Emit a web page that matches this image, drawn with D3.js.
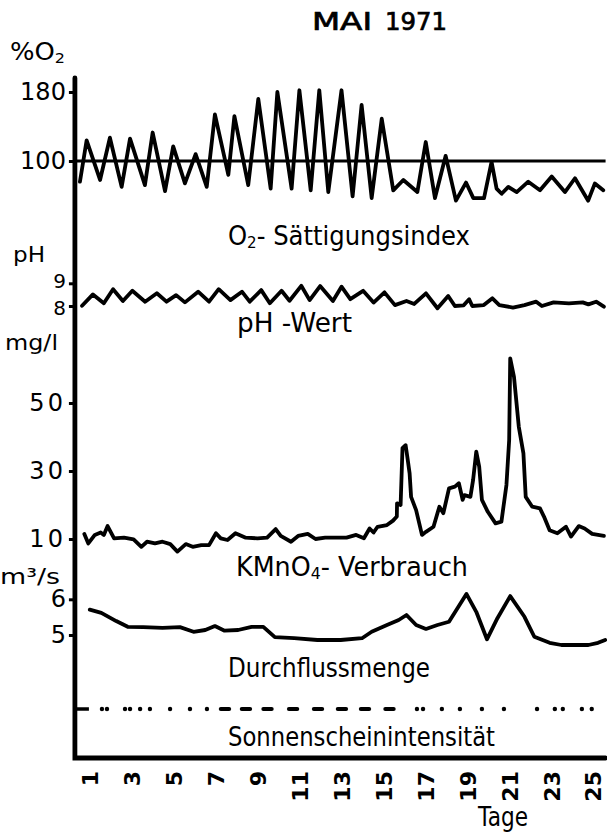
<!DOCTYPE html>
<html><head><meta charset="utf-8">
<script src="https://cdn.jsdelivr.net/npm/d3@7/dist/d3.min.js"></script>
<style>
html,body{margin:0;padding:0;background:#fff;}
svg text{font-family:"DejaVu Sans",sans-serif;fill:#000;}
</style></head>
<body>
<svg id="c" width="607" height="836"></svg>
<script>
// ---------- DATA ----------
const dayTicks = [1,3,5,7,9,11,13,15,17,19,21,23,25];

const o2Days = [0.52,0.84,1.48,1.95,2.51,2.91,3.62,3.99,4.58,4.97,5.53,6.04,6.57,6.96,7.6,7.89,8.55,9.03,9.62,9.94,10.62,10.99,11.53,11.94,12.37,13.0,13.53,13.96,14.44,14.92,15.47,15.95,16.62,17.02,17.46,17.97,18.46,18.94,19.29,19.8,20.16,20.4,20.64,20.96,21.36,21.91,22.47,23.03,23.66,24.14,24.77,25.09,25.49];
const o2Vals = [76,124,78,127,70,126,72,133,65,117,74,108,70,154,84,152,72,172,68,180,68,182,66,182,64,182,59,165,57,149,66,78,64,122,57,106,54,75,57,57,99,68,62,70,64,76,66,82,64,80,54,74,66];
const o2Ticks = [180,100];

const phDays = [0.62,1.14,1.66,2.10,2.57,3.02,3.63,4.19,4.65,5.11,5.53,6.16,6.68,7.14,7.70,8.25,8.62,9.17,9.58,10.14,10.52,11.08,11.48,11.98,12.59,13.0,13.42,14.03,14.53,15.05,15.55,16.10,16.47,17.03,17.58,18.09,18.41,18.83,19.09,19.24,19.79,20.20,20.53,21.18,21.73,22.29,22.56,23.12,23.85,24.51,24.78,25.15,25.52];
const phVals = [8.01,8.51,8.12,8.74,8.22,8.67,8.19,8.56,8.19,8.48,8.16,8.63,8.19,8.74,8.26,8.63,8.19,8.70,8.12,8.67,8.23,8.89,8.26,8.88,8.22,8.85,8.30,8.67,8.15,8.60,8.04,8.22,8.09,8.56,7.90,8.44,8.00,8.03,8.30,8.00,8.04,8.34,8.04,7.93,8.04,8.19,8.00,8.16,8.12,8.16,8.07,8.19,7.97];
const phTicks = [9,8];

const kmDays = [0.73,0.92,1.23,1.51,1.66,1.84,2.15,2.62,3.08,3.45,3.72,4.10,4.46,4.83,5.17,5.57,5.90,6.31,6.68,7.01,7.24,7.56,7.94,8.43,8.99,9.45,9.86,10.10,10.59,10.93,11.39,11.76,12.22,12.77,13.24,13.70,14.07,14.34,14.53,14.72,15.17,15.46,15.64,15.65,15.82,15.91,16.06,16.14,16.25,16.32,16.56,16.84,17.03,17.39,17.67,17.86,18.13,18.41,18.60,18.78,18.87,19.15,19.28,19.43,19.57,19.70,19.98,20.35,20.63,20.87,21.0,21.05,21.23,21.46,21.68,21.79,22.10,22.47,22.66,22.93,23.30,23.71,23.95,24.32,24.60,24.96,25.52];
const kmVals = [11.5,8.7,11.2,11.9,11.2,13.8,10.2,10.4,9.9,7.7,9.2,8.7,9.2,8.5,6.3,8.5,7.7,8.2,8.2,11.7,10.2,9.7,11.7,10.4,10.2,10.4,12.9,10.9,9.2,10.9,11.5,10.0,10.4,10.4,10.4,11.2,10.2,13.1,11.9,13.6,14.1,15.4,16.6,20.5,20.0,36.7,37.6,34.2,29.3,22.4,18.5,11.2,12.1,13.6,19.5,17.6,24.9,25.4,26.4,21.5,22.9,22.4,27.4,35.7,31.3,21.5,18.0,14.6,15.1,25.9,39.1,63.1,57.7,43.0,35.2,22.4,19.5,19.0,16.6,12.6,11.7,13.6,10.7,13.8,13.1,11.5,10.9];
const kmTicks = [50,30,10];

const flDays = [0.99,1.54,2.25,2.80,3.54,4.46,5.29,5.94,6.50,6.96,7.42,8.07,8.71,9.27,9.82,10.74,11.85,12.96,13.98,14.44,15.17,15.73,16.10,16.56,17.03,17.58,18.13,18.96,19.43,19.94,20.44,21.05,21.73,22.20,22.93,23.49,24.23,24.78,25.24,25.58];
const flVals = [5.71,5.62,5.39,5.23,5.22,5.20,5.22,5.09,5.14,5.25,5.12,5.14,5.23,5.23,4.94,4.91,4.86,4.86,4.91,5.09,5.28,5.42,5.56,5.28,5.17,5.28,5.37,6.15,5.65,4.88,5.47,6.09,5.51,4.95,4.78,4.72,4.72,4.72,4.78,4.86];
const flTicks = [6,5];

// sunshine: 'dash' = long mark, 'dot' = short mark
const sunDays  = [1.57,1.81,2.67,2.91,3.39,3.86,4.82,5.77,6.58,7.44,8.44,9.47,10.69,11.88,13.02,14.12,15.29,16.6,16.89,17.79,18.65,19.70,20.75,22.33,23.18,23.56,24.47,24.94];
const sunTypes = ['dot','dot','dot','dot','dot','dot','dot','dot','dot','dash','dash','dash','dash','dash','dash','dash','dash','dot','dot','dot','dot','dot','dot','dot','dot','dot','dot','dot'];

// ---------- LAYOUT ----------
const svg = d3.select('#c');
const x = d3.scaleLinear().domain([1,25]).range([90,593]);
const xStart = 0.28, xEnd = 25.6;
const yO2 = d3.scaleLinear().domain([100,180]).range([161,92]);
const yPH = d3.scaleLinear().domain([8,9]).range([306,283.3]);
const yKM = d3.scaleLinear().domain([10,50]).range([539,403]);
const yFL = d3.scaleLinear().domain([5,6]).range([635,599.3]);
const ySun = 709, axisTop = 78, axisBottom = 758;
const axX = x(xStart);

const line = (xs, ys, sc) => d3.line().x((d,i)=>x(xs[i])).y((d,i)=>sc(ys[i]))(xs);

function series(xs, ys, sc){
  svg.append('path').attr('d', line(xs,ys,sc))
    .attr('fill','none').attr('stroke','#000').attr('stroke-width',3.8)
    .attr('stroke-linejoin','round').attr('stroke-linecap','round');
}

// 100% reference line
svg.append('line').attr('x1',axX).attr('x2',x(xEnd)).attr('y1',yO2(100)).attr('y2',yO2(100))
  .attr('stroke','#000').attr('stroke-width',3.2);

series(o2Days,o2Vals,yO2);
series(phDays,phVals,yPH);
series(kmDays,kmVals,yKM);
series(flDays,flVals,yFL);

// sunshine marks
sunDays.forEach((d,i)=>{
  if(sunTypes[i]==='dash'){
    svg.append('line').attr('x1',x(d-0.2)).attr('x2',x(d+0.2)).attr('y1',ySun).attr('y2',ySun)
      .attr('stroke','#000').attr('stroke-width',4).attr('stroke-linecap','round');
  } else {
    svg.append('circle').attr('cx',x(d)).attr('cy',ySun).attr('r',2.2).attr('fill','#000');
  }
});

// left tick axes
function leftAxis(sc, vals, size, spacing){
  const g = svg.append('g').attr('transform',`translate(${axX},0)`)
    .call(d3.axisLeft(sc).tickValues(vals).tickSize(6).tickPadding(3).tickFormat(d3.format('d')));
  g.select('.domain').remove();
  g.selectAll('line').attr('stroke','#000').attr('stroke-width',3);
  g.selectAll('text').attr('font-size',size).attr('fill','#000')
    .style('font-family','"DejaVu Sans",sans-serif').attr('letter-spacing',spacing||0);
  return g;
}
leftAxis(yO2,o2Ticks,24);
const gph = leftAxis(yPH,phTicks,20);
gph.selectAll('text').attr('dy',(d)=> d===9 ? '0.2em' : '0.42em');
leftAxis(yKM,kmTicks,24,3);
leftAxis(yFL,flTicks,24);

// sunshine tick (inside)
svg.append('line').attr('x1',axX).attr('x2',axX+14).attr('y1',ySun).attr('y2',ySun)
  .attr('stroke','#000').attr('stroke-width',3.5);

// frame
svg.append('path').attr('d',`M${axX},${axisTop}V${axisBottom}H${x(xEnd)}`)
  .attr('fill','none').attr('stroke','#000').attr('stroke-width',4.8).attr('stroke-linecap','round');

// bottom axis labels
const gx = svg.append('g').attr('transform',`translate(0,${axisBottom})`)
  .call(d3.axisBottom(x).tickValues(dayTicks).tickSize(0).tickFormat(d3.format('d')));
gx.select('.domain').remove();
gx.selectAll('text').attr('font-size',22).attr('font-weight','bold').attr('fill','#000')
  .style('font-family','"DejaVu Sans",sans-serif')
  .attr('text-anchor','end').attr('transform','rotate(-90)')
  .attr('x',-13).attr('y',0).attr('dy','0.36em');

// ---------- TEXT ----------
function label(px,py,parts,size,len,anchor,adj){
  const t = svg.append('text').attr('x',px).attr('y',py).attr('font-size',size)
    .attr('text-anchor',anchor||'start');
  parts.forEach(p=>{
    const s = t.append('tspan').text(p.t);
    if(p.sub){ s.attr('font-size',size*0.62).attr('dy',size*0.12); }
    if(p.back){ s.attr('dy',-size*0.12); }
  });
  if(len) t.attr('textLength',len).attr('lengthAdjust',adj||'spacingAndGlyphs');
  return t;
}
label(312,30,[{t:'MAI'}],24,60).attr('stroke','#000').attr('stroke-width',0.7);
label(385,30,[{t:'1971'}],24,62).attr('stroke','#000').attr('stroke-width',0.7);
label(10,60,[{t:'%O'},{t:'2',sub:true}],24,55);
label(13,262,[{t:'pH'}],22,32);
label(5,350,[{t:'mg/l'}],22,53);
label(0,584,[{t:'m³/s'}],22,60);
label(228,245,[{t:'O'},{t:'2',sub:true},{t:'- Sättigungsindex',back:true}],26,242);
label(237,332,[{t:'pH -Wert'}],26,115);
label(236,576,[{t:'KMnO'},{t:'4',sub:true},{t:'- Verbrauch',back:true}],26,232);
label(228,677,[{t:'Durchflussmenge'}],26,202);
label(228,746,[{t:'Sonnenscheinintensität'}],26,267);
label(478,826,[{t:'Tage'}],26,50);
</script>
</body></html>
